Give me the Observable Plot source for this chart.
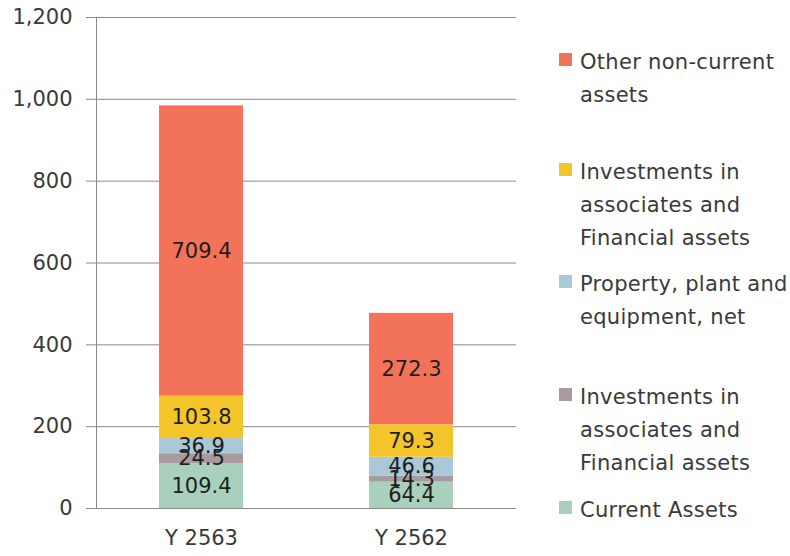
<!DOCTYPE html>
<html><head><meta charset="utf-8">
<script src="https://cdn.jsdelivr.net/npm/d3@7"></script>
<script src="https://cdn.jsdelivr.net/npm/@observablehq/plot@0.6"></script>
<style>
body{margin:0;background:#fff;font-family:"DejaVu Sans",sans-serif}
#wrap{position:relative;width:790px;height:556px;overflow:hidden}
.leg{position:absolute;left:580px;font-size:21px;letter-spacing:0.3px;color:#3a3a3a;line-height:33px;white-space:nowrap}
.sw{position:absolute;left:559px;width:13px;height:13px}
</style></head>
<body><div id="wrap"></div>
<script>
const years = ["Y 2563", "Y 2562"];
const currentAssets = [109.4, 64.4];
const investmentsA = [24.5, 14.3];
const ppe = [36.9, 46.6];
const investmentsB = [103.8, 79.3];
const otherNonCurrent = [709.4, 272.3];
const seriesKeys = ["current", "invA", "ppe", "invB", "other"];
const seriesLabels = [
  ["Current Assets"],
  ["Investments in", "associates and", "Financial assets"],
  ["Property, plant and", "equipment, net"],
  ["Investments in", "associates and", "Financial assets"],
  ["Other non-current", "assets"]
];
const seriesColors = ["#a8d0ba", "#a89b9e", "#a9c8d8", "#f4c52a", "#f2735a"];
const yTicks = [0, 200, 400, 600, 800, 1000, 1200];
const legendTops = [510, 397, 284, 172, 62];

const seriesValues = [currentAssets, investmentsA, ppe, investmentsB, otherNonCurrent];
const rows = [];
years.forEach((yr, i) => seriesKeys.forEach((k, j) => rows.push({year: yr, series: k, value: seriesValues[j][i]})));

const chart = Plot.plot({
  width: 790, height: 556,
  marginLeft: 96, marginRight: 274, marginTop: 17, marginBottom: 48,
  style: {fontFamily: "DejaVu Sans, sans-serif", fontSize: "21px", color: "#3a3a3a", background: "#fff"},
  x: {domain: years, paddingInner: 0.6, paddingOuter: 0.3, label: null, tickSize: 0, tickPadding: 22},
  y: {domain: [0, 1200], ticks: yTicks, tickFormat: d3.format(","), label: null, tickSize: 10, tickPadding: 14},
  color: {domain: seriesKeys, range: seriesColors},
  marks: [
    Plot.gridY(yTicks, {stroke: "#8a8a8a", strokeOpacity: 1}),
    Plot.barY(rows, {x: "year", y: "value", fill: "series"}),
    Plot.text(rows, Plot.stackY({x: "year", y: "value", text: d => d.value.toFixed(1), fill: "#1e1e1e", fontSize: 21})),
    Plot.ruleY([0], {stroke: "#8a8a8a"}),
    Plot.frame({anchor: "left", stroke: "#8a8a8a"}),
    Plot.axisY({ticks: yTicks, tickFormat: d3.format(","), tickSize: 10, tickPadding: 14, stroke: "#8a8a8a", label: null}),
    Plot.axisX({tickSize: 0, tickPadding: 22, label: null})
  ]
});
const wrap = document.getElementById("wrap");
wrap.appendChild(chart);
seriesKeys.forEach((k, j) => {
  const c = legendTops[j];
  const sw = document.createElement("div");
  sw.className = "sw"; sw.style.top = (c - 9) + "px"; sw.style.background = seriesColors[j];
  wrap.appendChild(sw);
  const t = document.createElement("div");
  t.className = "leg"; t.style.top = (c - 16.5) + "px";
  t.innerHTML = seriesLabels[j].join("<br>");
  wrap.appendChild(t);
});
</script></body></html>
